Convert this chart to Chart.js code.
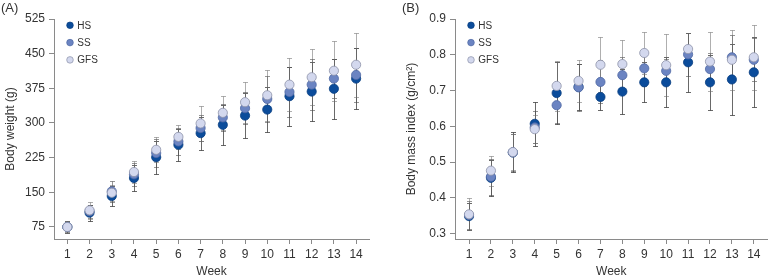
<!DOCTYPE html>
<html><head><meta charset="utf-8">
<script src="https://cdn.jsdelivr.net/npm/chart.js@4/dist/chart.umd.min.js"></script>
<style>
html,body{margin:0;padding:0;background:#fff}
body{width:773px;height:279px;overflow:hidden;position:relative;font-family:'Liberation Sans',Arial,sans-serif}
canvas{position:absolute;top:0}
#ca{left:0}
#cb{left:386px}
.lab{position:absolute;top:0px;font-size:13px;color:#333;line-height:15px}
</style></head>
<body>
<canvas id="ca" width="386" height="279"></canvas>
<canvas id="cb" width="387" height="279"></canvas>
<div class="lab" style="left:1px">(A)</div>
<div class="lab" style="left:402px">(B)</div>
<script>
// ---- data ----
const weeks = [1,2,3,4,5,6,7,8,9,10,11,12,13,14];
const seriesNames = ['HS','SS','GFS'];

const weightHS  = [75,106,142,181,226,253,278,296,316,329,358,368,374,396];
const weightSS  = [75,109,152,189,235,260,289,312,332,352,367,383,396,404];
const weightGFS = [75,111,149,194,242,270,299,322,345,360,383,399,413,426];
const weightSdHS  = [12,17,21,29,36,35,36,44,48,49,64,63,65,66];
const weightSdSS  = [11,14,22,25,30,30,28,30,35,50,54,55,42,58];
const weightSdGFS = [12,18,17,23,27,26,37,37,44,55,58,61,65,69];

const bmiHS  = [0.349,0.456,0.527,0.607,0.693,0.710,0.682,0.697,0.723,0.723,0.779,0.723,0.731,0.751];
const bmiSS  = [0.352,0.459,0.527,0.597,0.659,0.709,0.724,0.743,0.762,0.755,0.801,0.760,0.793,0.786];
const bmiGFS = [0.354,0.476,0.528,0.592,0.713,0.727,0.772,0.774,0.805,0.771,0.816,0.781,0.786,0.793];
const bmiSdHS  = [0.038,0.051,0.056,0.062,0.087,0.064,0.036,0.063,0.056,0.070,0.082,0.077,0.100,0.098];
const bmiSdSS  = [0.040,0.050,0.052,0.045,0.050,0.065,0.060,0.050,0.050,0.033,0.060,0.045,0.062,0.060];
const bmiSdGFS = [0.045,0.042,0.050,0.040,0.070,0.059,0.077,0.066,0.059,0.087,0.045,0.083,0.084,0.091];

const weightTicks = [75,150,225,300,375,450,525];
const bmiTicks = [0.3,0.4,0.5,0.6,0.7,0.8,0.9];

// ---- styles ----
const FONT = "'Liberation Sans', Arial, sans-serif";
const TXT = '#333';
const AXIS = '#8a8a8a';
const styles = [
  {bg:'#0b4c9b', border:'#083e80', err:'rgba(55,55,55,0.75)', order:3},
  {bg:'#6b84c2', border:'#4f68a3', err:'rgba(80,80,80,0.6)', order:2},
  {bg:'#d3d8ee', border:'#8d92a8', err:'rgba(110,110,110,0.55)', order:1}
];

const errorBars = {
  id:'errorBars',
  beforeDatasetsDraw(chart){
    const ctx = chart.ctx, xs = chart.scales.x, ys = chart.scales.y;
    ctx.save();
    chart.data.datasets.forEach(ds=>{
      ctx.strokeStyle = ds.errColor; ctx.lineWidth = 1;
      ds.data.forEach((p,i)=>{
        const x = Math.round(xs.getPixelForValue(p.x))+0.5;
        const y1 = Math.round(ys.getPixelForValue(p.y + ds.err[i]))+0.5;
        const y2 = Math.round(ys.getPixelForValue(p.y - ds.err[i]))+0.5;
        ctx.beginPath();
        ctx.moveTo(x,y1); ctx.lineTo(x,y2);
        ctx.moveTo(x-2.5,y1); ctx.lineTo(x+2.5,y1);
        ctx.moveTo(x-2.5,y2); ctx.lineTo(x+2.5,y2);
        ctx.stroke();
      });
    });
    ctx.restore();
  }
};

const insideLegend = {
  id:'insideLegend',
  afterDraw(chart){
    const ctx = chart.ctx, ca = chart.chartArea;
    ctx.save();
    ctx.font = '10px ' + FONT;
    ctx.textBaseline = 'middle';
    ctx.textAlign = 'left';
    chart.data.datasets.forEach((ds,i)=>{
      const cx = ca.left + 16, cy = ca.top + 6.3 + i*17.3;
      ctx.beginPath(); ctx.arc(cx,cy,3.3,0,Math.PI*2);
      ctx.fillStyle = ds.backgroundColor; ctx.fill();
      ctx.lineWidth = 0.7; ctx.strokeStyle = ds.borderColor; ctx.stroke();
      ctx.fillStyle = TXT;
      ctx.fillText(ds.label, cx + 7.3, cy + 0.5);
    });
    ctx.restore();
  }
};

function makeChart(id, vals, sds, yTicks, yMin, yMax, yTitle, yWidth, padRight, titlePad, xMin, xMax, dec){
  const datasets = vals.map((v,k)=>({
    label: seriesNames[k],
    data: weeks.map((w,i)=>({x:w, y:v[i]})),
    err: sds[k],
    errColor: styles[k].err,
    backgroundColor: styles[k].bg,
    borderColor: styles[k].border,
    borderWidth: 0.8,
    pointRadius: 4.6,
    pointHoverRadius: 4.6,
    showLine: false,
    order: styles[k].order
  }));
  return new Chart(document.getElementById(id), {
    type:'scatter',
    data:{datasets},
    plugins:[errorBars, insideLegend],
    options:{
      responsive:false, animation:false, devicePixelRatio:1,
      layout:{padding:{left:0,right:padRight,top:19,bottom:0}},
      plugins:{legend:{display:false}, tooltip:{enabled:false}},
      scales:{
        x:{
          type:'linear', min:xMin, max:xMax,
          afterBuildTicks: s=>{ s.ticks = weeks.map(v=>({value:v})); },
          afterFit: s=>{ s.height = 40; },
          grid:{display:true, drawOnChartArea:false, drawTicks:true, tickLength:5, color:AXIS},
          border:{display:true, color:AXIS, width:1},
          ticks:{color:TXT, font:{family:FONT, size:12}, padding:3, maxRotation:0, autoSkip:false,
                 callback:v=>String(v)},
          title:{display:true, text:'Week', color:TXT, font:{family:FONT, size:12}, padding:{top:0,bottom:0}}
        },
        y:{
          type:'linear', min:yMin, max:yMax,
          afterBuildTicks: s=>{ s.ticks = yTicks.map(v=>({value:v})); },
          afterFit: s=>{ s.width = yWidth; },
          grid:{display:true, drawOnChartArea:false, drawTicks:true, tickLength:5, color:AXIS},
          border:{display:true, color:AXIS, width:1},
          ticks:{color:TXT, font:{family:FONT, size:12}, padding:4,
                 callback:v=> dec ? Number(v).toFixed(1) : String(v)},
          title:{display:true, text:yTitle, color:TXT, font:{family:FONT, size:12}, padding:{top:titlePad,bottom:0}}
        }
      }
    }
  });
}

Chart.defaults.font.family = FONT;
makeChart('ca', [weightHS, weightSS, weightGFS], [weightSdHS, weightSdSS, weightSdGFS],
  weightTicks, 49, 525, 'Body weight (g)', 54, 17, 3, 0.40, 14.58, false);
makeChart('cb', [bmiHS, bmiSS, bmiGFS], [bmiSdHS, bmiSdSS, bmiSdGFS],
  bmiTicks, 0.285, 0.9, 'Body mass index (g/cm\u00B2)', 69, 1, 18, 0.36, 14.63, true);
</script>
</body></html>
